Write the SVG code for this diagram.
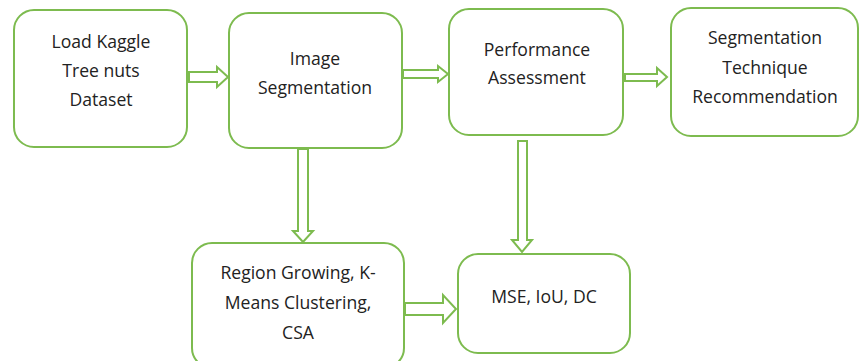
<svg xmlns="http://www.w3.org/2000/svg" width="859" height="361" viewBox="0 0 859 361">
<style>
.box{fill:#fff;stroke:#7dbb4f;stroke-width:2}
.arr{fill:#fff;stroke:#7dbb4f;stroke-width:2;stroke-linejoin:miter}
text{font-family:"Open Sans","Liberation Sans",sans-serif;font-size:17.6px;fill:#222;text-anchor:middle}
</style>
<rect width="859" height="361" fill="#fff"/>
<g id="connectors">
<polygon class="arr" points="189,72 217,72 217,67 228,77 217,87 217,82 189,82"/>
<polygon class="arr" points="403,70 438,70 438,66 448,74 438,82 438,78 403,78"/>
<polygon class="arr" points="625,74 657,74 657,68 667,77 657,86 657,81 625,81"/>
<polygon class="arr" points="298,149 308,149 308,231 313,231 303,242 293,231 298,231"/>
<polygon class="arr" points="518,141 527,141 527,240 532,240 522,252 512,240 518,240"/>
<polygon class="arr" points="405,303 443,303 443,295 456,309 443,323 443,315 405,315"/>
</g>
<g id="n1"><rect class="box" x="14" y="10" width="173" height="137" rx="20"/>
<text x="101" y="48">Load Kaggle</text><text x="101" y="77">Tree nuts</text><text x="101" y="106">Dataset</text></g>
<g id="n2"><rect class="box" x="229" y="13" width="173" height="135" rx="20"/>
<text x="315" y="65">Image</text><text x="315" y="94">Segmentation</text></g>
<g id="n3"><rect class="box" x="449" y="9" width="174" height="126" rx="20"/>
<text x="537" y="56">Performance</text><text x="537" y="84">Assessment</text></g>
<g id="n4"><rect class="box" x="671" y="8" width="187" height="128" rx="20"/>
<text x="765" y="44">Segmentation</text><text x="765" y="74">Technique</text><text x="765" y="103">Recommendation</text></g>
<g id="n5"><rect class="box" x="192" y="243" width="212" height="125" rx="20"/>
<text x="298" y="279">Region Growing, K-</text><text x="298" y="309">Means Clustering,</text><text x="298" y="339">CSA</text></g>
<g id="n6"><rect class="box" x="458" y="254" width="172" height="99" rx="20"/>
<text x="544" y="303">MSE, IoU, DC</text></g>
</svg>
